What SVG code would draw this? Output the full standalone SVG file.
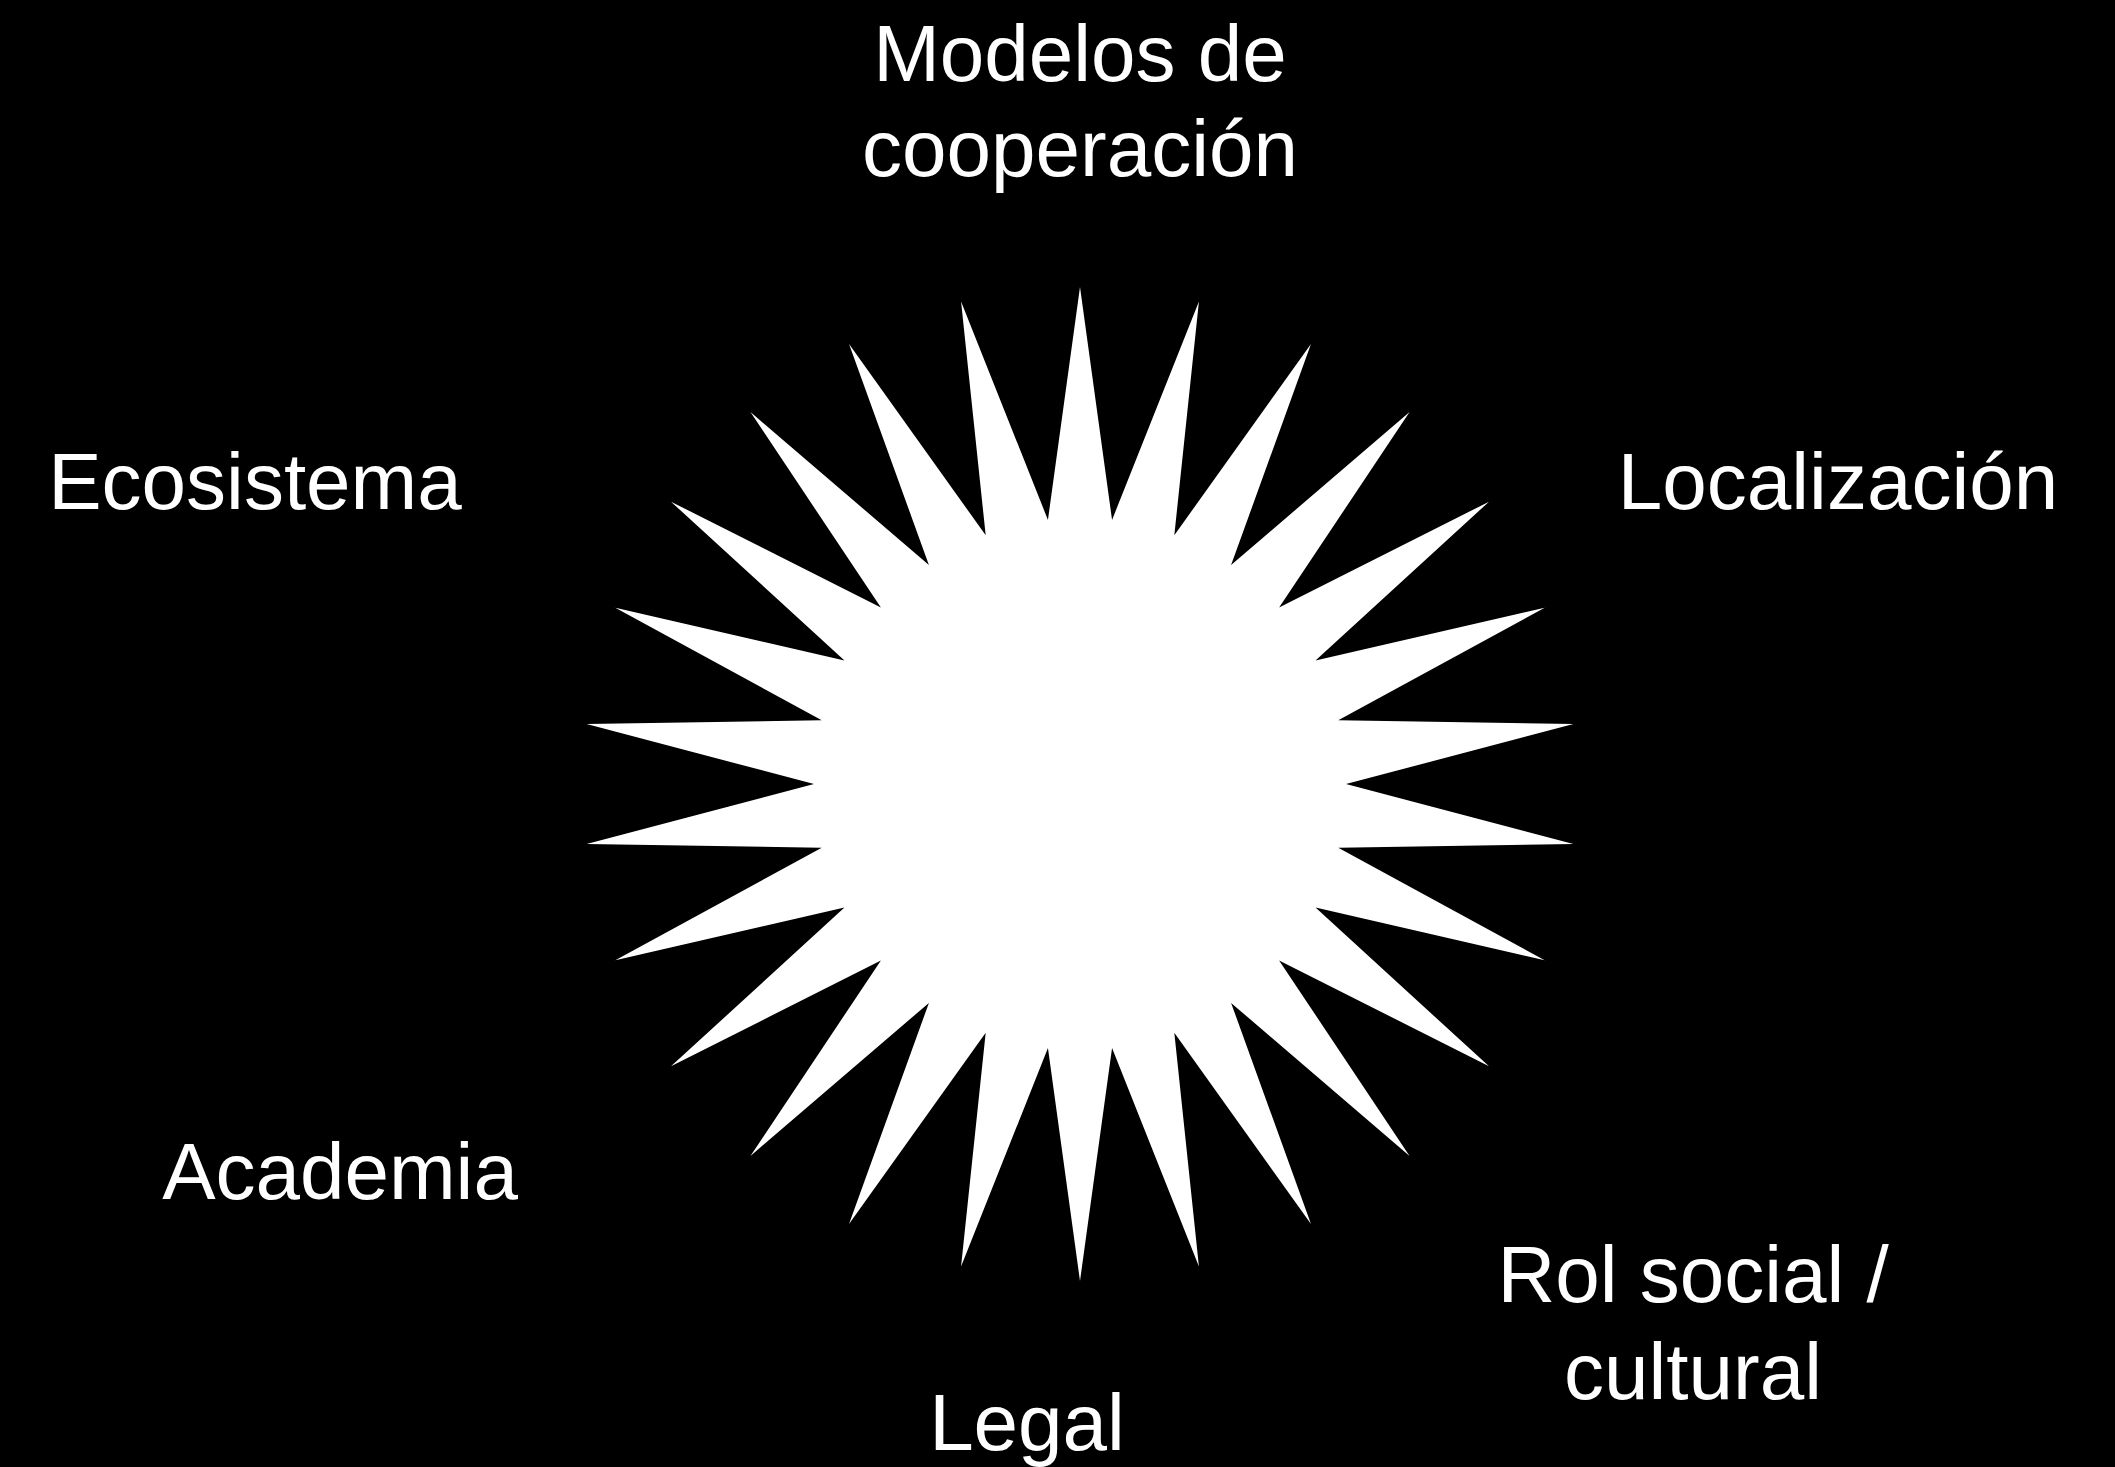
<svg xmlns="http://www.w3.org/2000/svg" width="2115" height="1467" viewBox="0 0 2115 1467">
<style>
.lbl{font-family:"Liberation Sans",Arial,sans-serif;font-size:80px;fill:#ffffff;text-anchor:middle}
</style>
<rect x="0" y="0" width="2115" height="1467" fill="#000000"/>
<g id="star">
<polygon fill="#ffffff" points="1080,287 1112.06,519.94 1198.94,301.44 1174.32,535.28 1310.97,343.93 1231.10,565.09 1409.57,411.99 1279.10,607.61 1489.02,501.67 1315.53,660.38 1544.70,607.76 1338.27,720.34 1573.38,724.09 1346,784 1573.38,843.91 1338.27,847.66 1544.70,960.24 1315.53,907.62 1489.02,1066.33 1279.10,960.39 1409.57,1156.01 1231.10,1002.91 1310.97,1224.07 1174.32,1032.72 1198.94,1266.56 1112.06,1048.06 1080,1281 1047.94,1048.06 961.06,1266.56 985.68,1032.72 849.03,1224.07 928.90,1002.91 750.43,1156.01 880.90,960.39 670.98,1066.33 844.47,907.62 615.30,960.24 821.73,847.66 586.62,843.91 814,784 586.62,724.09 821.73,720.34 615.30,607.76 844.47,660.38 670.98,501.67 880.90,607.61 750.43,411.99 928.90,565.09 849.03,343.93 985.68,535.28 961.06,301.44 1047.94,519.94"/>
</g>
<g id="connectors"></g>
<g id="n-modelos"><text class="lbl" x="1080" y="81">Modelos de</text><text class="lbl" x="1080" y="176">cooperación</text></g>
<g id="n-ecosistema"><text class="lbl" x="255" y="509">Ecosistema</text></g>
<g id="n-localizacion"><text class="lbl" x="1838" y="509">Localización</text></g>
<g id="n-academia"><text class="lbl" x="340" y="1199">Academia</text></g>
<g id="n-rol"><text class="lbl" x="1693" y="1302">Rol social /</text><text class="lbl" x="1693" y="1399">cultural</text></g>
<g id="n-legal"><text class="lbl" x="1027" y="1450">Legal</text></g>
</svg>
